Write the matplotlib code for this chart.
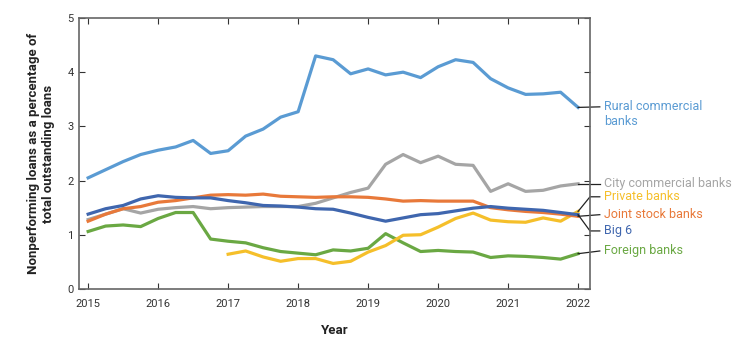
import numpy as np
import matplotlib.pyplot as plt

plt.rcParams['font.family'] = ['Roboto', 'DejaVu Sans']

# quarterly, 2015Q1 .. 2022Q1
quarters = np.arange(2015, 2022.01, 0.25)

rural = [2.05, 2.20, 2.35, 2.48, 2.56, 2.62, 2.74, 2.50, 2.55, 2.82, 2.95, 3.17, 3.27,
         4.30, 4.23, 3.97, 4.06, 3.95, 4.00, 3.90, 4.10, 4.23, 4.18, 3.88, 3.71, 3.59,
         3.60, 3.63, 3.35]
city = [1.28, 1.38, 1.48, 1.40, 1.47, 1.50, 1.52, 1.48, 1.50, 1.51, 1.52, 1.52, 1.52,
        1.58, 1.68, 1.78, 1.86, 2.30, 2.48, 2.33, 2.45, 2.30, 2.28, 1.80, 1.94, 1.80,
        1.82, 1.90, 1.94]
joint = [1.25, 1.38, 1.48, 1.52, 1.60, 1.63, 1.68, 1.73, 1.74, 1.73, 1.75, 1.71, 1.70,
         1.69, 1.70, 1.70, 1.69, 1.66, 1.62, 1.63, 1.62, 1.62, 1.62, 1.50, 1.46, 1.43,
         1.41, 1.38, 1.34]
big6 = [1.38, 1.48, 1.54, 1.66, 1.72, 1.69, 1.68, 1.68, 1.63, 1.59, 1.54, 1.53, 1.51,
        1.48, 1.47, 1.40, 1.32, 1.25, 1.31, 1.37, 1.39, 1.44, 1.49, 1.52, 1.49, 1.47,
        1.45, 1.41, 1.37]
foreign = [1.06, 1.16, 1.18, 1.15, 1.30, 1.41, 1.41, 0.92, 0.88, 0.85, 0.76, 0.69, 0.66,
           0.63, 0.72, 0.70, 0.75, 1.02, 0.85, 0.69, 0.71, 0.69, 0.68, 0.58, 0.61, 0.60,
           0.58, 0.55, 0.65]
# private banks start in 2017
private_q = np.arange(2017, 2022.01, 0.25)
private = [0.64, 0.70, 0.59, 0.51, 0.56, 0.56, 0.47, 0.51, 0.68, 0.80, 0.99, 1.00, 1.14,
           1.30, 1.40, 1.27, 1.24, 1.23, 1.31, 1.25, 1.43]

years = list(range(2015, 2023))

c_rural = '#5a9bd3'
c_city = '#a5a5a5'
c_joint = '#e8793a'
c_big6 = '#3f66ae'
c_foreign = '#6aa843'
c_private = '#f5bf2a'

fig = plt.figure(figsize=(7.32, 3.46), dpi=100)
ax = fig.add_axes([0.108, 0.165, 0.698, 0.783])

lw = 2.3
ax.plot(quarters, rural, color=c_rural, lw=lw)
ax.plot(quarters, city, color=c_city, lw=lw)
ax.plot(quarters, foreign, color=c_foreign, lw=lw)
ax.plot(private_q, private, color=c_private, lw=lw)
ax.plot(quarters, joint, color=c_joint, lw=lw)
ax.plot(quarters, big6, color=c_big6, lw=lw)

ax.set_xlim(2014.87, 2022.17)
ax.set_ylim(0, 5)
ax.set_xticks(years)
ax.set_yticks(range(0, 6))
ax.tick_params(direction='in', top=True, right=True, length=4, width=0.8,
               labelsize=8, colors='#333333', pad=4)
ax.tick_params(axis='x', pad=7)
for s in ax.spines.values():
    s.set_color('#666666')
    s.set_linewidth(1.2)

ax.set_xlabel('Year', fontsize=9.5, fontweight='bold', color='#222222', labelpad=11)
ax.set_ylabel('Nonperforming loans as a percentage of\ntotal outstanding loans',
              fontsize=9.5, fontweight='bold', color='#222222', labelpad=9)

# right-hand labels with leader lines
xe = 2022.0
xk = 2022.17
xt = 2022.31
xl = 2022.37
labels = [
    ('Rural commercial\nbanks', c_rural, rural[-1], 3.36),
    ('City commercial banks', c_city, city[-1], 1.94),
    ('Private banks', c_private, private[-1], 1.70),
    ('Joint stock banks', c_joint, joint[-1], 1.37),
    ('Big 6', c_big6, big6[-1], 1.07),
    ('Foreign banks', c_foreign, foreign[-1], 0.70),
]
for text, col, yend, ytxt in labels:
    if abs(yend - ytxt) < 0.05:
        ax.plot([xe, xt], [yend, ytxt], color='#222222', lw=0.9, clip_on=False)
    else:
        ax.plot([xe, xk, xt], [yend, ytxt, ytxt], color='#222222', lw=0.9, clip_on=False)
    va = 'center'
    if '\n' in text:
        va = 'top'
        ytxt = ytxt + 0.13
    ax.text(xl, ytxt, text, color=col, fontsize=9, va=va, ha='left',
            linespacing=1.25, clip_on=False)

fig.savefig('out.png', dpi=100)
